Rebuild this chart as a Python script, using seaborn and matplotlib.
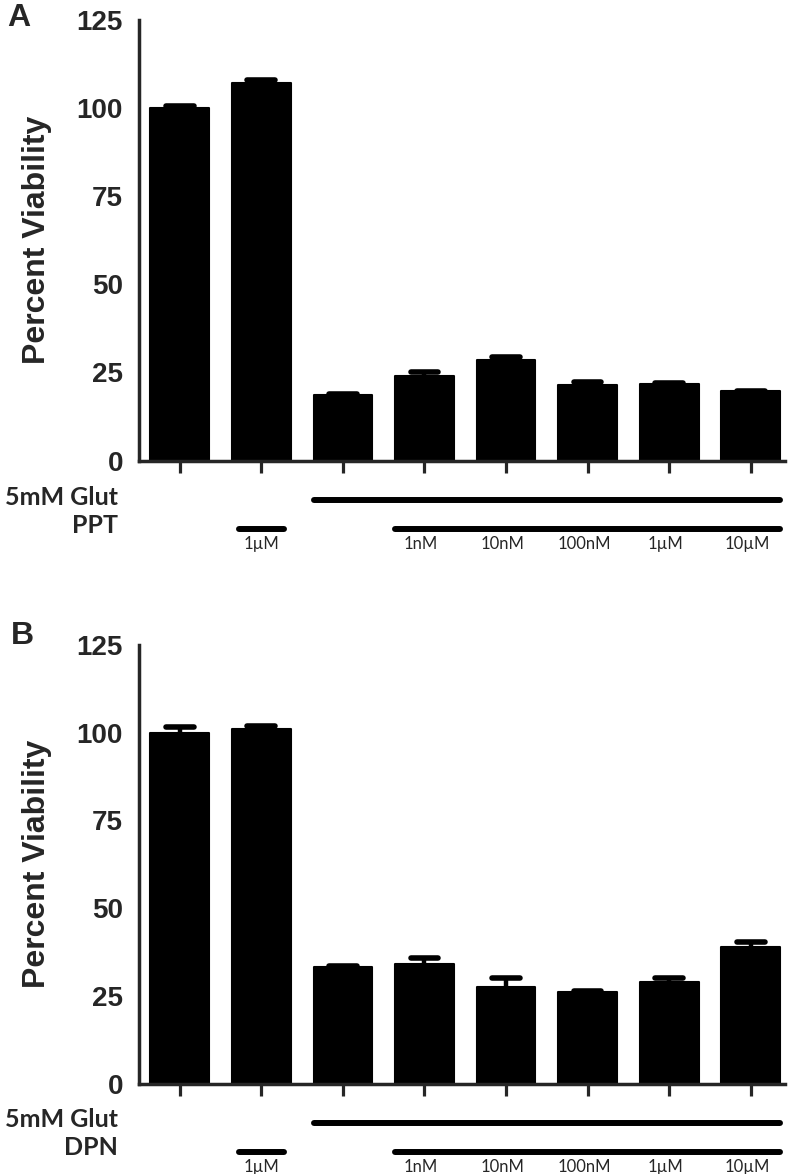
import numpy as np
import pandas as pd
import matplotlib
matplotlib.use("Agg")
import matplotlib.pyplot as plt
import seaborn as sns

# Data (bar = mean, error = SEM, upper only)
groups = ["Control", "Agonist 1µM", "Glut", "Glut + 1nM", "Glut + 10nM",
          "Glut + 100nM", "Glut + 1µM", "Glut + 10µM"]
conc_labels = ["1nM", "10nM", "100nM", "1µM", "10µM"]
ppt_mean = [100.0, 107.0, 18.6, 24.1, 28.4, 21.3, 21.6, 19.6]
ppt_sem = [0.9, 1.1, 0.5, 1.1, 1.2, 1.1, 0.6, 0.4]
dpn_mean = [100.0, 101.0, 33.1, 34.2, 27.4, 26.0, 28.9, 39.0]
dpn_sem = [1.7, 1.1, 0.7, 1.8, 3.0, 0.7, 1.3, 1.6]

sns.set_style("white")
plt.rcParams["font.family"] = ["Liberation Sans", "DejaVu Sans"]

BAR_W = 0.72


def draw_panel(ax, means, sems, drug):
    df = pd.DataFrame({"group": groups, "viability": means})
    sns.barplot(data=df, x="group", y="viability", color="black", saturation=1,
                width=BAR_W, edgecolor="black", linewidth=1.5, errorbar=None, ax=ax)
    for p in ax.patches:
        p.set_joinstyle("round")
    x = np.arange(len(means))
    m = np.array(means)
    s = np.array(sems)
    ax.errorbar(x, m, yerr=[np.zeros_like(s), s], fmt="none", ecolor="black",
                elinewidth=3.2, capsize=0)
    ax.hlines(m + s - 0.2, x - 0.17, x + 0.17, colors="black", linewidth=4,
              capstyle="round", zorder=4)

    ax.set_xlim(-0.5, 7.42)
    ax.set_ylim(0, 125)
    ax.set_yticks([0, 25, 50, 75, 100, 125])
    sns.despine(ax=ax)
    for sp in ["left", "bottom"]:
        ax.spines[sp].set_linewidth(2.5)
    ax.tick_params(axis="y", length=8.5, width=2.3, labelsize=20, pad=3)
    ax.tick_params(axis="x", length=8.5, width=2.3, labelbottom=False,
                   bottom=True, direction="out")
    for lab in ax.get_yticklabels():
        lab.set_fontweight("bold")
    ax.set_xlabel("")
    ax.set_ylabel("Percent Viability", fontsize=23, fontweight="bold")
    ax.yaxis.label.set_rotation_mode("default")
    ax.yaxis.label.set_va("center")
    ax.yaxis.set_label_coords((37 - 139) / 646, 0.5)

    # treatment annotation under the axis
    tr = ax.get_xaxis_transform()
    half = BAR_W / 2
    ax.plot([2 - half, 7 + half], [-0.089, -0.089], transform=tr, color="black",
            lw=4.3, solid_capstyle="round", clip_on=False)
    ax.plot([1 - 0.27, 1 + 0.28], [-0.156, -0.156], transform=tr, color="black",
            lw=4.3, solid_capstyle="round", clip_on=False)
    ax.plot([3 - half, 7 + half], [-0.156, -0.156], transform=tr, color="black",
            lw=4.3, solid_capstyle="round", clip_on=False)
    lab_x = (118 - 139) / 646
    ax.text(lab_x, -0.083, "5mM Glut", transform=ax.transAxes, ha="right",
            va="center", fontsize=18, fontweight="bold", family="Lato")
    ax.text(lab_x, -0.147, drug, transform=ax.transAxes, ha="right",
            va="center", fontsize=18, fontweight="bold", family="Lato")
    ax.text(1, -0.19, "1µM", transform=tr, ha="center", va="center",
            fontsize=12, family="Lato")
    for i, c in enumerate(conc_labels):
        ax.text(3 + i - 0.04, -0.19, c, transform=tr, ha="center", va="center",
                fontsize=12, family="Lato")


fig = plt.figure(figsize=(7.97, 11.74), dpi=100)
axA = fig.add_axes([139 / 797, (1174 - 460.5) / 1174, 646 / 797, 440.5 / 1174])
axB = fig.add_axes([139 / 797, (1174 - 1083.5) / 1174, 646 / 797, 438.5 / 1174])

draw_panel(axA, ppt_mean, ppt_sem, "PPT")
draw_panel(axB, dpn_mean, dpn_sem, "DPN")

fig.text(7 / 797, 1 - 3 / 1174, "A", ha="left", va="top", fontsize=23, fontweight="bold")
fig.text(11 / 797, 1 - 621 / 1174, "B", ha="left", va="top", fontsize=23, fontweight="bold")

fig.savefig("out.png", dpi=100)
